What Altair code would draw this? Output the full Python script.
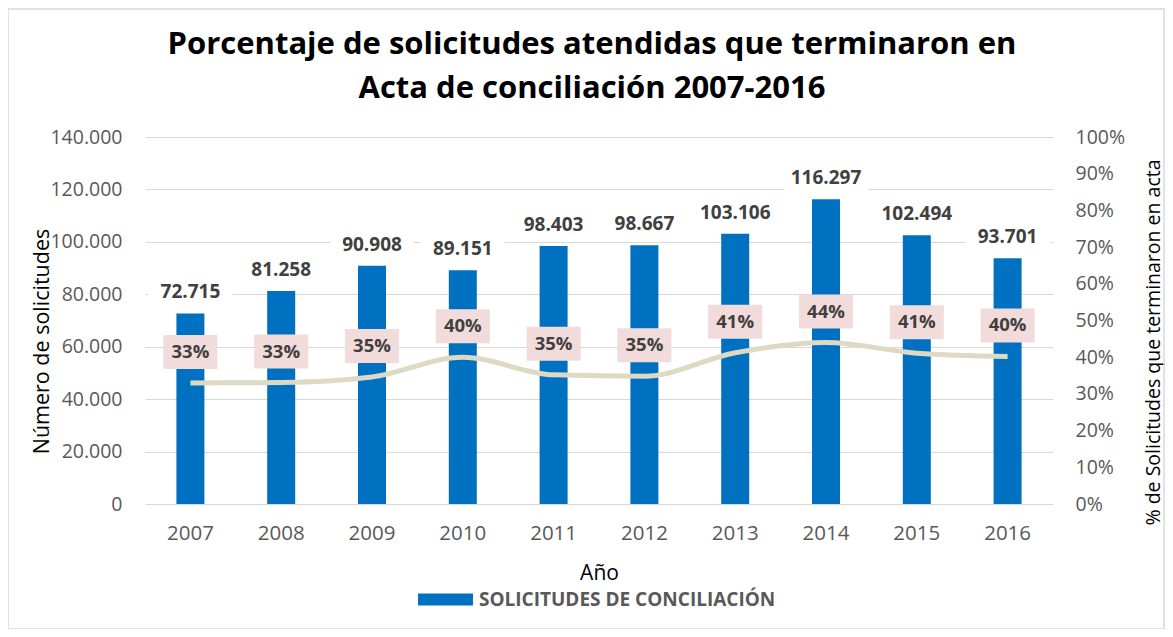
import altair as alt
import pandas as pd

years = ["2007", "2008", "2009", "2010", "2011", "2012", "2013", "2014", "2015", "2016"]
solicitudes = [72715, 81258, 90908, 89151, 98403, 98667, 103106, 116297, 102494, 93701]
value_labels = ["72.715", "81.258", "90.908", "89.151", "98.403", "98.667", "103.106", "116.297", "102.494", "93.701"]
porcentaje = [0.330, 0.331, 0.346, 0.400, 0.352, 0.348, 0.412, 0.440, 0.411, 0.402]
serie_name = "SOLICITUDES DE CONCILIACIÓN"
left_ticks = [0, 20000, 40000, 60000, 80000, 100000, 120000, 140000]
right_ticks = [0, 0.1, 0.2, 0.3, 0.4, 0.5, 0.6, 0.7, 0.8, 0.9, 1.0]

df = pd.DataFrame({
    "year": years,
    "sol": solicitudes,
    "lab": value_labels,
    "pct": porcentaje,
    "serie": [serie_name] * len(years),
})

FONT = "Open Sans"
GRAY = "#595959"
DARK = "#404040"

x_enc = alt.X(
    "year:N",
    scale=alt.Scale(paddingInner=0.69, paddingOuter=0.345),
    axis=alt.Axis(
        title="Año", labelAngle=0, domain=False, ticks=False, labelPadding=19,
        labelFontSize=20.5, labelColor=GRAY, labelFont=FONT,
        titleFontSize=21, titleColor="black", titleFont=FONT, titleFontWeight="normal",
        titleY=69, titleBaseline="middle",
    ),
)

y_left = alt.Y(
    "sol:Q",
    scale=alt.Scale(domain=[0, 140000]),
    axis=alt.Axis(
        title="Número de solicitudes", values=left_ticks,
        labelExpr="replace(format(datum.value, ','), ',', '.')",
        grid=True, gridColor="#d9d9d9", gridWidth=1, domain=False, ticks=False,
        labelOverlap=False,
        labelPadding=23, labelFontSize=19.5, labelColor=GRAY, labelFont=FONT,
        titleFontSize=21.5, titleColor="black", titleFont=FONT, titleFontWeight="normal",
        titleX=-103, titleY=204, titleAngle=270, titleAlign="center", titleBaseline="middle",
    ),
)

y_right = alt.Y(
    "pct:Q",
    scale=alt.Scale(domain=[0, 1]),
    axis=alt.Axis(
        orient="right", title="% de Solicitudes que terminaron en acta", values=right_ticks,
        format=".0%", grid=False, domain=False, ticks=False, labelOverlap=False,
        labelPadding=22, labelFontSize=19.5, labelColor=GRAY, labelFont=FONT,
        titleFontSize=19.5, titleColor="black", titleFont=FONT, titleFontWeight="normal",
        titleX=100, titleY=205, titleAngle=270, titleAlign="center", titleBaseline="middle",
    ),
)

base = alt.Chart(df)

bars = base.mark_bar(size=28).encode(
    x=x_enc,
    y=y_left,
    color=alt.Color(
        "serie:N",
        scale=alt.Scale(range=["#0070C0"]),
        legend=alt.Legend(
            title=None, orient="none", legendX=291, legendY=453,
            symbolType="M-4.58,-1L4.58,-1L4.58,1L-4.58,1Z", symbolSize=144,
            symbolStrokeWidth=0, symbolOpacity=1, labelOffset=24, labelLimit=1000,
            labelFont=FONT, labelFontSize=19, labelFontWeight="bold", labelColor=GRAY,
        ),
    ),
)

white_box = base.mark_point(
    shape="M-3.0,-1L3.0,-1L3.0,1L-3.0,1Z", size=784, filled=True,
    fill="white", opacity=1, strokeWidth=0, yOffset=-21,
).encode(x="year:N", y=y_left)

val_text = base.mark_text(
    dy=-21, font=FONT, fontSize=19, fontWeight="bold", color=DARK,
).encode(x="year:N", y=y_left, text="lab:N")

left_layer = alt.layer(bars, white_box, val_text)

line = base.mark_line(color="#DDD9C3", strokeWidth=5, interpolate="monotone").encode(
    x="year:N", y=y_right
)

pink_box = base.mark_point(
    shape="M-1.59,-1L1.59,-1L1.59,1L-1.59,1Z", size=1156, filled=True,
    fill="#F2DCDB", opacity=1, strokeWidth=0, yOffset=-31,
).encode(x="year:N", y=y_right)

pct_text = base.mark_text(
    dy=-31, font=FONT, fontSize=18.5, fontWeight="bold", color=DARK,
).encode(x="year:N", y=y_right, text=alt.Text("pct:Q", format=".0%"))

right_layer = alt.layer(line, pink_box, pct_text)

border = alt.Chart(pd.DataFrame({"a": [0]})).mark_rect(
    fillOpacity=0, stroke="#d9d9d9", strokeWidth=1.5
).encode(
    x=alt.value(-137), x2=alt.value(1019), y=alt.value(-128), y2=alt.value(492)
)

chart = alt.layer(border, left_layer, right_layer).resolve_scale(
    y="independent"
).properties(
    width=908,
    height=367,
    padding={"left": 137, "top": 129, "right": 112, "bottom": 125},
    autosize=alt.AutoSizeParams(type="none"),
    title=alt.Title(
        ["Porcentaje de solicitudes atendidas que terminaron en", "Acta de conciliación 2007-2016"],
        font=FONT, fontSize=31, fontWeight="bold", color="black",
        anchor="middle", offset=-97, lineHeight=44, dx=-7,
    ),
).configure_view(stroke=None)

chart.save("out.html", embed_options={"renderer": "svg", "actions": False})
